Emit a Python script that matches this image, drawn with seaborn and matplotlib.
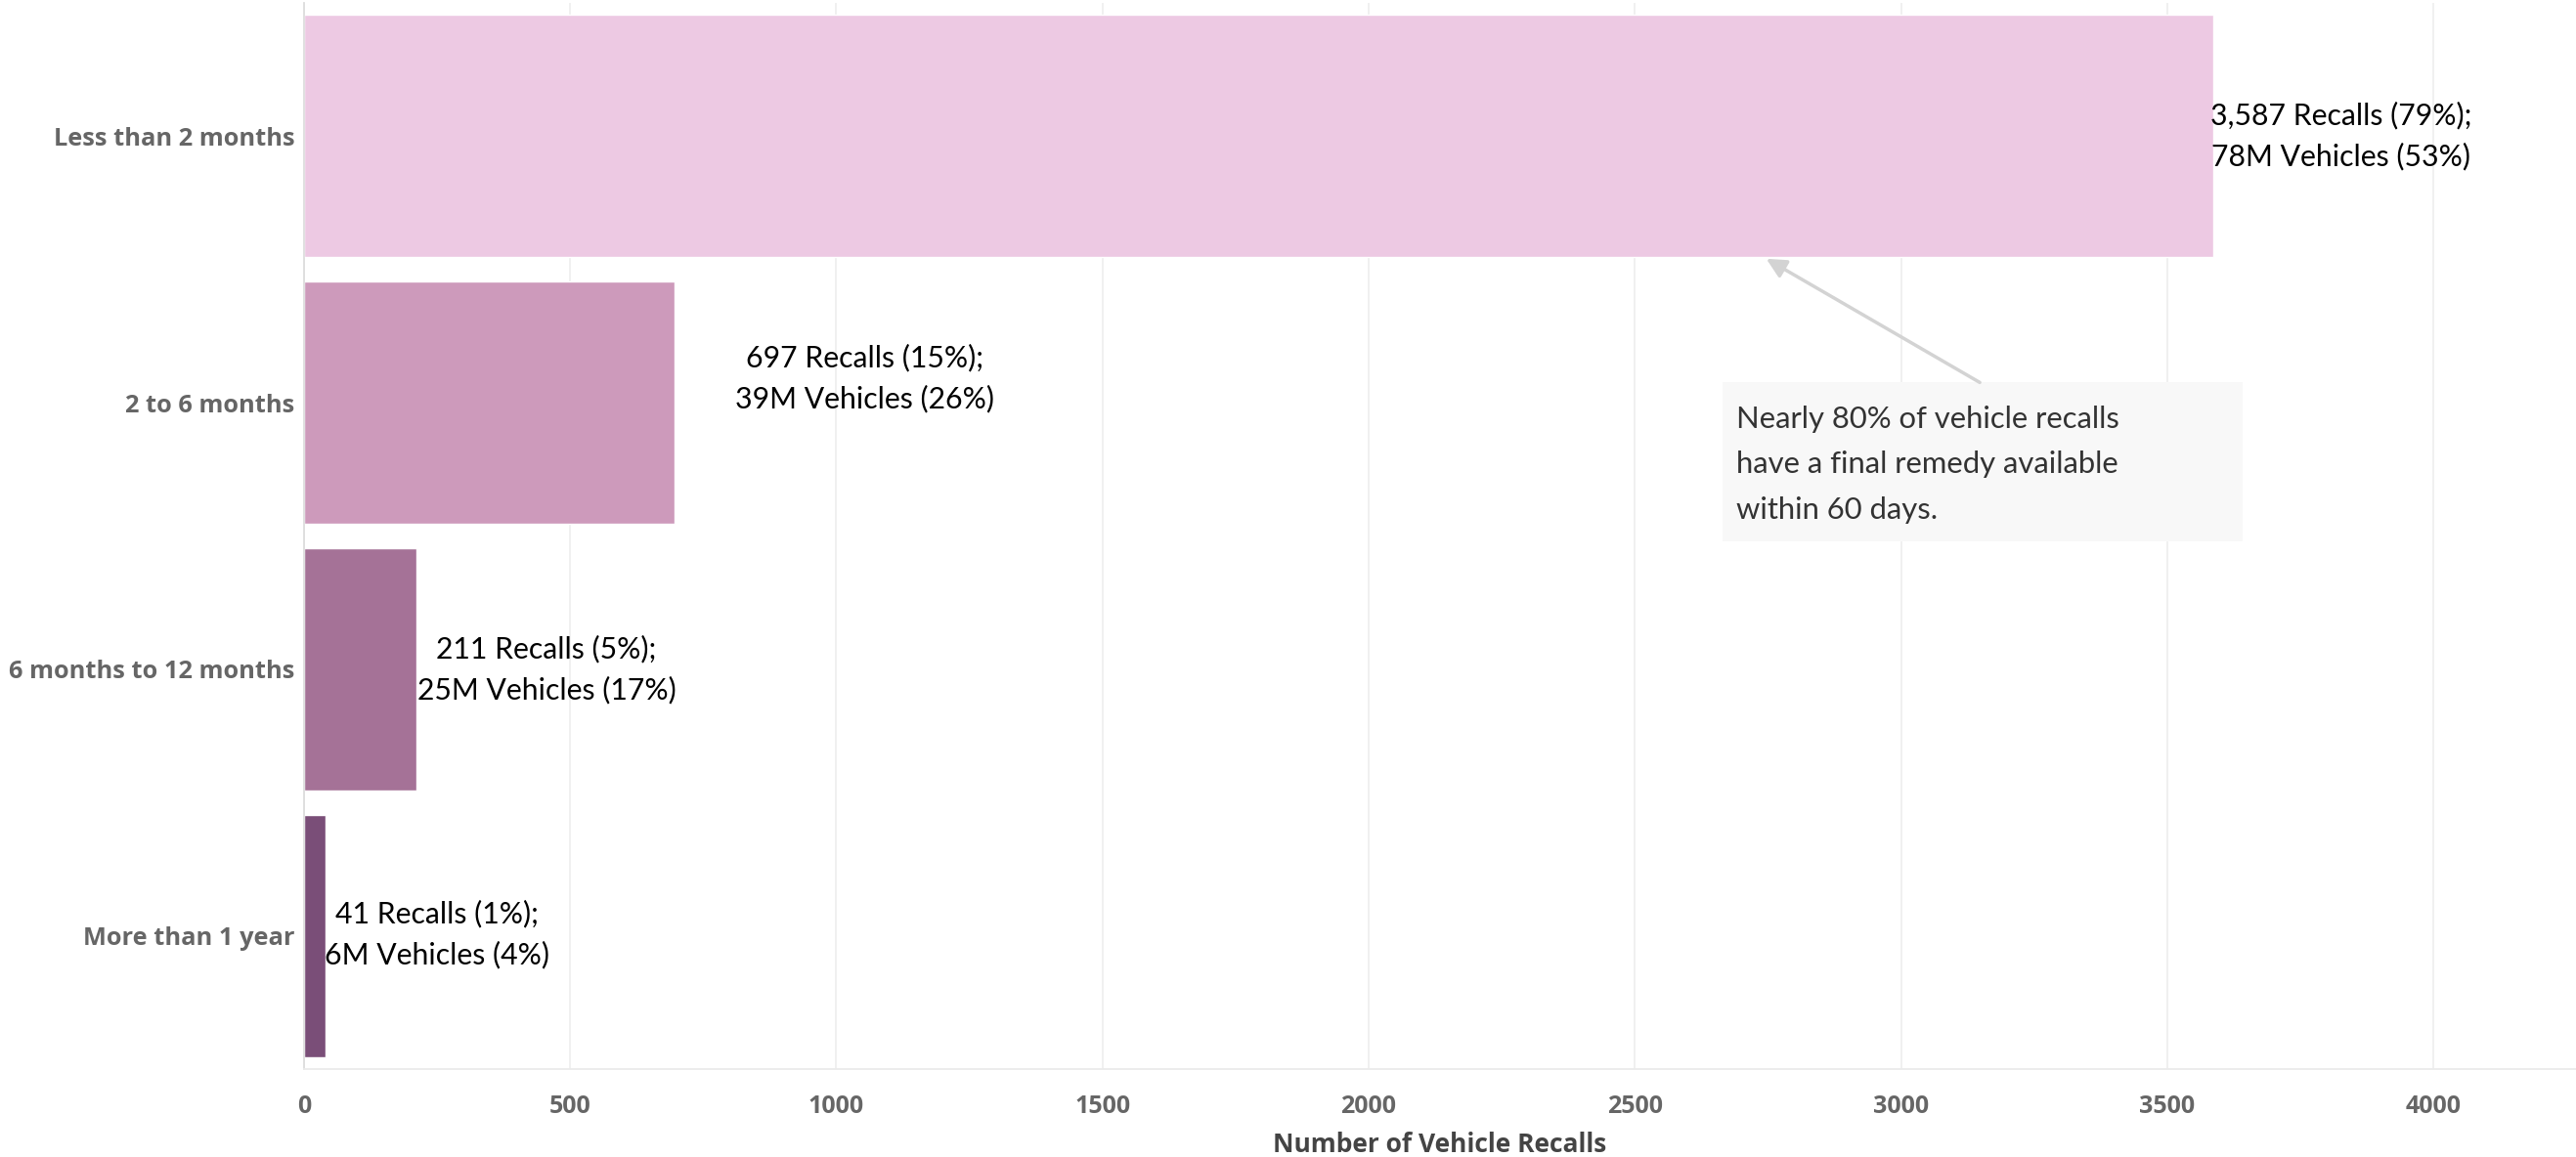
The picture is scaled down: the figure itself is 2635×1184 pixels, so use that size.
import matplotlib
matplotlib.use("Agg")
import matplotlib.pyplot as plt
import seaborn as sns
import pandas as pd
from matplotlib.patches import Rectangle

categories = ["Less than 2 months", "2 to 6 months", "6 months to 12 months", "More than 1 year"]
recalls = [3587, 697, 211, 41]
recall_pct = [79, 15, 5, 1]
vehicles_m = [78, 39, 25, 6]
vehicle_pct = [53, 26, 17, 4]
colors = ["#EDC9E3", "#CD9ABB", "#A57297", "#7A4E78"]

df = pd.DataFrame({"window": categories, "recalls": recalls})

sns.set_theme(style="white")
plt.rcParams["font.family"] = ["Open Sans", "DejaVu Sans"]

fig = plt.figure(figsize=(26.35, 11.84), dpi=100)
ax = fig.add_axes([0.118, 0.076, 0.882, 0.9215])

sns.barplot(data=df, y="window", x="recalls", hue="window", palette=colors,
            orient="h", width=0.91, saturation=1, legend=False, ax=ax)

ax.set_xlim(0, 4268)
ax.set_ylim(3.5, -0.5)
ax.set_xticks(range(0, 4001, 500))
ax.xaxis.grid(True, color="#EFEFEF", lw=1.3)
ax.set_axisbelow(True)
for s in ["top", "right"]:
    ax.spines[s].set_visible(False)
ax.spines["left"].set_color("#DDDDDD")
ax.spines["bottom"].set_color("#EBEBEB")
ax.spines["left"].set_linewidth(1.3)
ax.spines["bottom"].set_linewidth(1.3)

ax.tick_params(axis="x", length=8, color="#EFEFEF", labelsize=18, labelcolor="#666666", pad=11)
ax.tick_params(axis="y", length=0, labelsize=18.3, labelcolor="#666666", pad=7)
for t in ax.get_xticklabels() + ax.get_yticklabels():
    t.set_fontweight("bold")

ax.set_ylabel("")
ax.set_xlabel("Number of Vehicle Recalls", fontsize=19, fontweight="bold", color="#444444", labelpad=9)

# bar labels, offsets in points from the bar end
label_dx = [94, 140, 96, 82]
label_dy = [0, 18, 0, 1]
for i, (r, rp, v, vp) in enumerate(zip(recalls, recall_pct, vehicles_m, vehicle_pct)):
    ax.annotate(f"{r:,} Recalls ({rp}%);\n{v}M Vehicles ({vp}%)", xy=(r, i),
                xytext=(label_dx[i], label_dy[i]), textcoords="offset points",
                ha="center", va="center", fontsize=21.7, color="black",
                family=["Lato", "DejaVu Sans"], linespacing=1.55)

# callout
ax.add_patch(Rectangle((2664, 0.924), 978, 0.598, facecolor="#F8F8F8", edgecolor="none", zorder=3))
ax.text(2691, 1.232, "Nearly 80% of vehicle recalls\nhave a final remedy available\nwithin 60 days.",
        ha="left", va="center", fontsize=22.3, color="#333333", family=["Lato", "DejaVu Sans"],
        linespacing=1.8, zorder=4)
ax.annotate("", xy=(2747, 0.46), xytext=(3148, 0.924),
            arrowprops=dict(arrowstyle="-|>", color="#D3D3D3", lw=2.5, mutation_scale=30,
                            shrinkA=0, shrinkB=0), zorder=4)

plt.savefig("out.png", dpi=100)
plt.close()
